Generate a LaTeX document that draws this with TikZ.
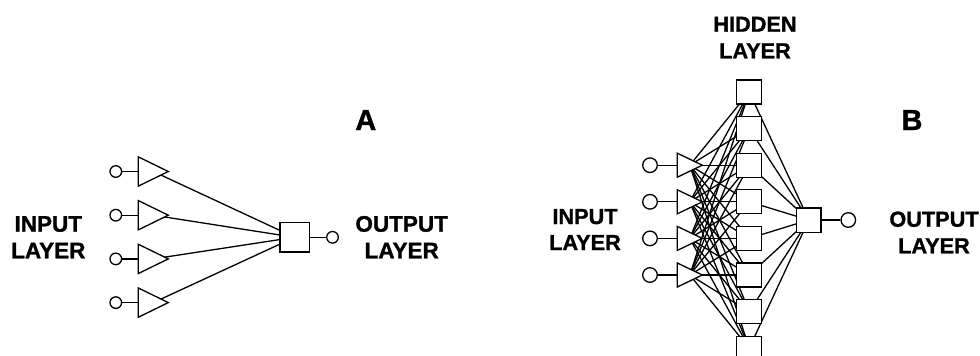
\documentclass[tikz,border=0pt]{standalone}
\usepackage{fontspec}
\setmainfont{Liberation Sans}[BoldFeatures={FakeBold=1.2}]
\usetikzlibrary{calc,backgrounds}
\begin{document}
\begin{tikzpicture}[x=1pt,y=-1pt,line width=1.3pt,
  wire/.style={line width=1.3pt},
  box/.style={draw,fill=white,rectangle,inner sep=0pt,line width=1.3pt},
  term/.style={draw,fill=white,circle,inner sep=0pt,line width=1.3pt},
  tri/.style={draw,fill=white,line join=miter,line width=1.3pt},
  lblA/.style={font=\bfseries\fontsize{22.5}{27}\selectfont,anchor=base,inner sep=0pt},
  lblB/.style={font=\bfseries\fontsize{21.7}{26}\selectfont,anchor=base,inner sep=0pt},
  big/.style={font=\bfseries\fontsize{29}{34}\selectfont,anchor=base,inner sep=0pt}]
\useasboundingbox (0,0) rectangle (980,356);
\clip (0,0) rectangle (980,356);
% ---------------- Panel A ----------------
\foreach \i/\y in {1/171.5,2/215.2,3/258.9,4/302.6}{
  \coordinate (tA\i) at (153.3,\y);
  \node[term,minimum size=11.6pt] (cA\i) at (115.8,\y) {};
}
\node[box,minimum size=29.3pt] (sA) at (294.7,237.3) {};
\node[term,minimum size=11.6pt] (oA) at (332.5,237.3) {};
\begin{pgfonlayer}{background}
  \foreach \i in {1,...,4}{
    \draw[wire] (cA\i) -- (tA\i);
    \draw[wire] (tA\i) -- (sA.center);
  }
  \draw[wire] (sA) -- (oA);
\end{pgfonlayer}
\foreach \i in {1,...,4}{
  \draw[tri] ($(tA\i)+(-15,-14.65)$) -- ($(tA\i)+(15,0)$) -- ($(tA\i)+(-15,14.65)$) -- cycle;
}
% ---------------- Panel B ----------------
\foreach \k in {0,...,7}{
  \node[box,minimum width=25pt,minimum height=24pt] (h\k) at (749.2,{92+36.6*\k}) {};
}
\foreach \i/\k in {1/2,2/3,3/4,4/5}{
  \coordinate (tB\i) at (689.8,{92+36.6*\k});
  \node[term,minimum size=14.6pt] (cB\i) at (650,{92+36.6*\k}) {};
}
\node[box,minimum size=24.3pt] (sB) at (808.8,220) {};
\node[term,minimum size=14.6pt] (oB) at (848.3,220) {};
\begin{pgfonlayer}{background}
  \foreach \i in {1,...,4}{
    \draw[wire] (cB\i) -- (tB\i);
    \foreach \k in {0,...,7}{
      \draw[wire] (tB\i) -- (h\k.center);
    }
  }
  \foreach \k in {0,...,7}{
    \draw[wire] (h\k.center) -- (sB.center);
  }
  \draw[wire] (sB) -- (oB);
\end{pgfonlayer}
\foreach \i in {1,...,4}{
  \draw[tri] ($(tB\i)+(-12.5,-12)$) -- ($(tB\i)+(12.5,0)$) -- ($(tB\i)+(-12.5,12)$) -- cycle;
}
% ---------------- Labels ----------------
\node[lblA] (inA1) at (48.3,231.7) {INPUT};
\node[lblA] (inA2) at (48.3,258.3) {LAYER};
\node[lblA] (outA1) at (401.7,231.7) {OUTPUT};
\node[lblA] (outA2) at (401.7,258.3) {LAYER};
\node[big] (labA) at (365.8,130) {A};
\node[lblB] (hid1) at (755,31.7) {HIDDEN};
\node[lblB] (hid2) at (755,58.3) {LAYER};
\node[lblB] (inB1) at (585,224) {INPUT};
\node[lblB] (inB2) at (585,250) {LAYER};
\node[lblB] (outB1) at (934,226.7) {OUTPUT};
\node[lblB] (outB2) at (934,253.3) {LAYER};
\node[big] (labB) at (912,130) {B};
\end{tikzpicture}
\end{document}
